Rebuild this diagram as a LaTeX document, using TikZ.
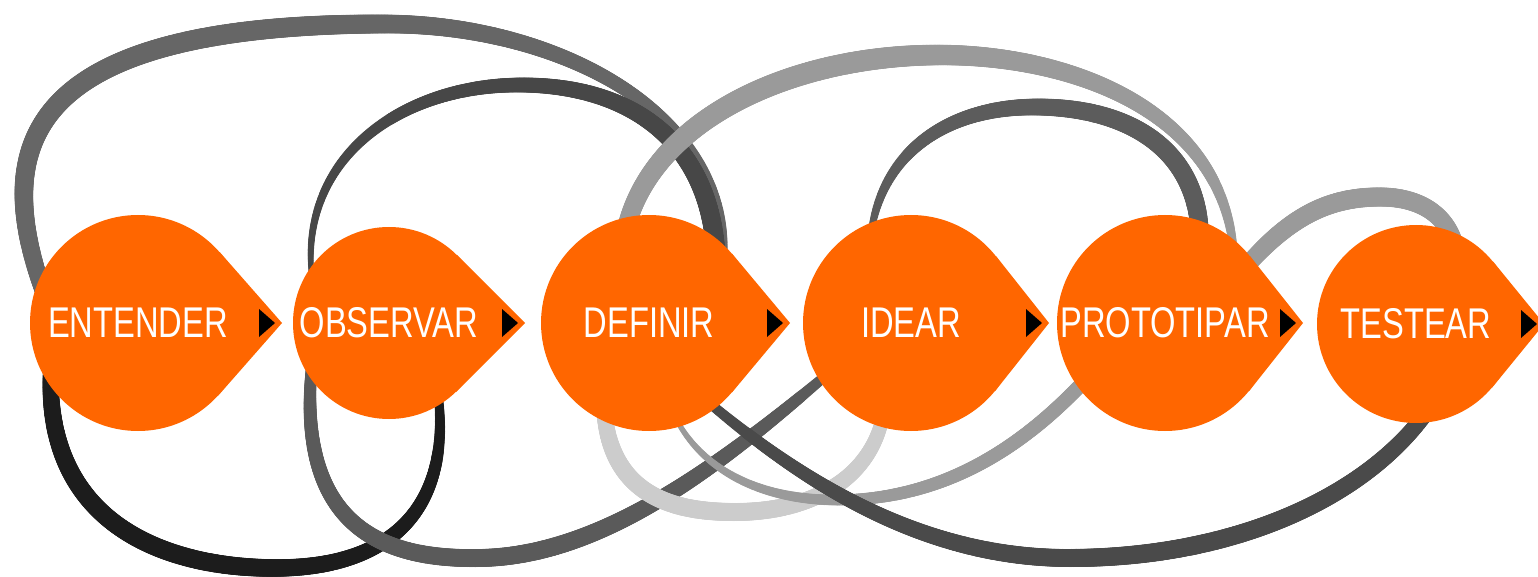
\documentclass[tikz,border=0pt]{standalone}
\usepackage{fontspec}
\newfontfamily\hand[FakeStretch=0.76]{Liberation Sans}
\usetikzlibrary{calc,decorations.markings}
\pgfdeclarelayer{bg}
\pgfsetlayers{bg,main}
\definecolor{dorange}{RGB}{255,102,0}
\definecolor{cA}{HTML}{666666}
\definecolor{cB}{HTML}{474747}
\definecolor{cC}{HTML}{9A9A9A}
\definecolor{cD}{HTML}{5C5C5C}
\definecolor{cF}{HTML}{1C1C1C}
\definecolor{cG}{HTML}{5A5A5A}
\definecolor{cH}{HTML}{CCCCCC}
\definecolor{cJ}{HTML}{4A4A4A}
\tikzset{
  brush/.style n args={4}{postaction={decorate}, decoration={markings,
    mark=between positions 0 and 1 step 1.2pt with {
      \pgfmathsetmacro{\tp}{\pgfkeysvalueof{/pgf/decoration/mark info/distance from start}/\pgfdecoratedpathlength}
      \pgfmathsetmacro{\rr}{0.6*((#1)*(2*\tp-1)*(\tp-1)+(#2)*4*\tp*(1-\tp)+(#3)*\tp*(2*\tp-1))}
      \fill[#4] (0,0) circle[radius=\rr pt];
    }}}
}
\newcommand{\inpt}[2]{($(#1.center)!0.86!(#1.#2)$)}
\begin{document}
\begin{tikzpicture}[x=1pt,y=-1pt,
  drop/.style={circle, fill=dorange, inner sep=0pt, text=white,
    font=\hand\fontsize{43}{43}\selectfont}
]
\useasboundingbox (0,0) rectangle (1538,577);
\clip (0,0) rectangle (1538,577);

% drops
\node[drop, minimum size=216pt] (d1) at (138,323) {ENTENDER};
\node[drop, minimum size=192pt] (d2) at (389,323) {OBSERVAR};
\node[drop, minimum size=216pt] (d3) at (649,323) {DEFINIR};
\node[drop, minimum size=216pt] (d4) at (911,323) {IDEAR};
\node[drop, minimum size=216pt] (d5) at (1165,323) {PROTOTIPAR};
\node[drop, minimum size=198pt] (d6) at (1416,324) {TESTEAR};

\begin{pgfonlayer}{bg}
% top loops
\path[brush={14}{16}{5}{cA}] \inpt{d1}{167} .. controls (-10,150) and (15,24) .. (385,24)
  .. controls (565,24) and (737,120) .. \inpt{d3}{37};
\path[brush={4}{12}{16}{cB}] \inpt{d2}{156} .. controls (292,160) and (400,85) .. (520,85)
  .. controls (640,85) and (712,150) .. \inpt{d3}{44};
\path[brush={15}{17}{6}{cC}] \inpt{d3}{105} .. controls (650,120) and (790,55) .. (940,55)
  .. controls (1070,55) and (1228,110) .. \inpt{d5}{42};
\path[brush={5}{14}{15}{cD}] \inpt{d4}{116} .. controls (880,150) and (950,107) .. (1035,107)
  .. controls (1130,107) and (1198,150) .. \inpt{d5}{68};
\path[brush={14}{16}{14}{cC}] \inpt{d5}{34} .. controls (1290,215) and (1330,197) .. (1380,197)
  .. controls (1420,197) and (1448,215) .. \inpt{d6}{62};
% bottom loops
\path[brush={13}{15}{7}{cF}] \inpt{d1}{202} .. controls (38,520) and (160,568) .. (275,568)
  .. controls (400,568) and (452,500) .. \inpt{d2}{306};
\path[brush={9}{15}{8}{cG}] \inpt{d2}{203} .. controls (293,525) and (380,560) .. (480,558)
  .. controls (600,556) and (715,470) .. \inpt{d4}{211};
\path[brush={13}{15}{11}{cH}] \inpt{d3}{241} .. controls (608,500) and (680,512) .. (735,512)
  .. controls (810,512) and (872,480) .. \inpt{d4}{253};
\path[brush={4}{10}{12}{cC}] \inpt{d3}{285} .. controls (700,470) and (760,500) .. (837,500)
  .. controls (950,500) and (1030,440) .. \inpt{d5}{215};
\path[brush={8}{15}{13}{cJ}] \inpt{d3}{306} .. controls (800,480) and (920,558) .. (1069,558)
  .. controls (1230,558) and (1365,500) .. \inpt{d6}{279};
% drop points
\foreach \n/\d/\t in {d1/144/41.4, d2/136/45.1, d3/141/40.0, d4/138/38.5, d5/138/38.5, d6/128/39.3}{
  \pgfmathsetmacro{\tt}{360-\t}
  \fill[dorange] (\n.center) -- (\n.\t) -- ($(\n.center)+(\d,0)$) -- (\n.\tt) -- cycle;
}
\end{pgfonlayer}

% black arrow tips
\foreach \n/\d in {d1/144, d2/136, d3/141, d4/138, d5/138, d6/128}{
  \fill[black] ($(\n.center)+(\d,0)$) ++(-23,-14) -- ++(0,28) -- ++(16,-14) -- cycle;
}
\end{tikzpicture}
\end{document}
